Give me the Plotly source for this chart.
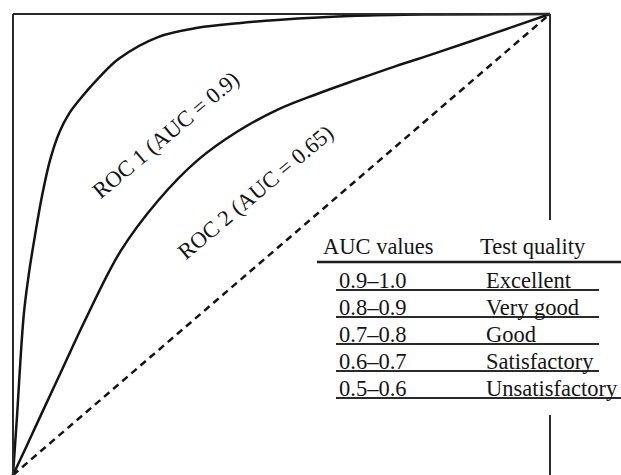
import plotly.graph_objects as go

# ---- data ----
roc1_fpr = [0, 0.007, 0.020, 0.030, 0.041, 0.054, 0.069, 0.087, 0.105, 0.123, 0.160,
            0.197, 0.270, 0.344, 0.420, 0.492, 0.639, 0.788, 1.0]
roc1_tpr = [0, 0.119, 0.347, 0.440, 0.520, 0.605, 0.683, 0.745, 0.785, 0.813, 0.862,
            0.903, 0.950, 0.970, 0.980, 0.987, 0.996, 0.999, 1.0]

roc2_fpr = [0, 0.025, 0.050, 0.090, 0.134, 0.200, 0.270, 0.344, 0.418, 0.492, 0.565,
            0.639, 0.713, 0.787, 0.898, 1.0]
roc2_tpr = [0, 0.062, 0.125, 0.225, 0.335, 0.485, 0.595, 0.683, 0.745, 0.792, 0.826,
            0.857, 0.887, 0.915, 0.959, 1.0]

diag = [0, 1]

roc1_label = "ROC 1 (AUC = 0.9)"
roc2_label = "ROC 2 (AUC = 0.65)"

table_header = ["AUC values", "Test quality"]
auc_ranges = ["0.9\u20131.0", "0.8\u20130.9", "0.7\u20130.8", "0.6\u20130.7", "0.5\u20130.6"]
test_quality = ["Excellent", "Very good", "Good", "Satisfactory", "Unsatisfactory"]

# ---- layout helpers ----
W, H = 621, 475
X0, X1 = 13, 550     # pixel columns of fpr 0 and 1
Y0, Y1 = 475, 14     # pixel rows of tpr 0 and 1
sx = X1 - X0
sy = Y0 - Y1


def px(x):
    return x / W


def py(y):
    return 1 - y / H


FONT = "Liberation Serif, Times New Roman, serif"
INK = "#141414"
FS = 22.5

fig = go.Figure()

fig.add_trace(go.Scatter(x=diag, y=diag, mode="lines",
                         line=dict(color=INK, width=2.5, dash="7px,5px"),
                         hoverinfo="skip", showlegend=False))
fig.add_trace(go.Scatter(x=roc2_fpr, y=roc2_tpr, mode="lines",
                         line=dict(color=INK, width=2.5, shape="spline", smoothing=1.0),
                         showlegend=False))
fig.add_trace(go.Scatter(x=roc1_fpr, y=roc1_tpr, mode="lines",
                         line=dict(color=INK, width=2.5, shape="spline", smoothing=1.0),
                         showlegend=False))

shapes = []
frame = dict(type="line", xref="x", yref="y", line=dict(color="#2a2a2a", width=2))
shapes.append(dict(frame, x0=0, x1=0, y0=0, y1=1))
shapes.append(dict(frame, x0=0, x1=1, y0=1, y1=1))
shapes.append(dict(frame, x0=1, x1=1, y0=1, y1=(Y0 - 220) / sy))
shapes.append(dict(frame, x0=1, x1=1, y0=(Y0 - 415) / sy, y1=0))

# table rules
rule = dict(type="line", xref="paper", yref="paper")
shapes.append(dict(rule, x0=px(317), x1=px(621), y0=py(262), y1=py(262),
                   line=dict(color="#1e1e1e", width=2.5)))
row_lines = [290, 317, 344, 371, 398]
for i, yl in enumerate(row_lines):
    xr = 621 if i == len(row_lines) - 1 else 599
    shapes.append(dict(rule, x0=px(336), x1=px(xr), y0=py(yl), y1=py(yl),
                       line=dict(color="#2a2a2a", width=2)))

annotations = []
# ROC labels
annotations.append(dict(x=(165 - X0) / sx, y=(Y0 - 135) / sy, xref="x", yref="y",
                        text=roc1_label, showarrow=False, textangle=-40,
                        font=dict(family=FONT, size=FS, color=INK)))
annotations.append(dict(x=(255 - X0) / sx, y=(Y0 - 192) / sy, xref="x", yref="y",
                        text=roc2_label, showarrow=False, textangle=-40,
                        font=dict(family=FONT, size=FS, color=INK)))

tfont = dict(family=FONT, size=FS, color=INK)
PADX = 3
annotations.append(dict(x=px(324 - PADX), y=py(253 - 7), xref="paper", yref="paper",
                        text=table_header[0], showarrow=False, xanchor="left",
                        yanchor="middle", font=tfont))
annotations.append(dict(x=px(481 - PADX), y=py(253 - 7), xref="paper", yref="paper",
                        text=table_header[1], showarrow=False, xanchor="left",
                        yanchor="middle", font=tfont))
for i, (r, q) in enumerate(zip(auc_ranges, test_quality)):
    base = row_lines[i] - 3
    annotations.append(dict(x=px(340 - PADX), y=py(base - 7), xref="paper", yref="paper",
                            text=r, showarrow=False, xanchor="left",
                            yanchor="middle", font=tfont))
    annotations.append(dict(x=px(487 - PADX), y=py(base - 7), xref="paper", yref="paper",
                            text=q, showarrow=False, xanchor="left",
                            yanchor="middle", font=tfont))

fig.update_layout(
    width=W, height=H,
    margin=dict(l=0, r=0, t=0, b=0),
    paper_bgcolor="white", plot_bgcolor="white",
    xaxis=dict(range=[-X0 / sx, (W - X0) / sx], visible=False, fixedrange=True),
    yaxis=dict(range=[(Y0 - H) / sy, Y0 / sy], visible=False, fixedrange=True),
    shapes=shapes, annotations=annotations,
    showlegend=False,
)

fig.write_html("out.html", config={"displayModeBar": False},
               post_script="document.body.style.margin='0';document.body.style.overflow='hidden';")
